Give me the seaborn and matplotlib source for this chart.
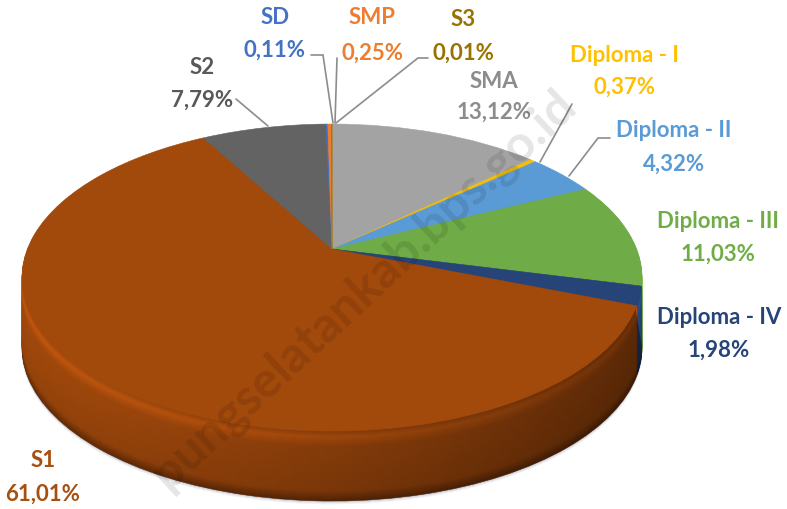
import numpy as np
import matplotlib
matplotlib.use('Agg')
import matplotlib.pyplot as plt
import seaborn as sns
from matplotlib.patches import Polygon
from matplotlib.transforms import Transform

# Values, clockwise from 12 o'clock
categories = ['SMA', 'Diploma - I', 'Diploma - II', 'Diploma - III', 'Diploma - IV',
              'S1', 'S2', 'SD', 'SMP', 'S3']
values = [13.12, 0.37, 4.32, 11.03, 1.98, 61.01, 7.79, 0.11, 0.25, 0.01]
value_labels = ['13,12%', '0,37%', '4,32%', '11,03%', '1,98%',
                '61,01%', '7,79%', '0,11%', '0,25%', '0,01%']
slice_colors = ['#A3A3A3', '#F5BE0A', '#5B9BD5', '#6FAB46', '#264478',
                '#A2490C', '#636363', '#4472C4', '#ED7D31', '#997300']
text_colors = ['#8C8C8C', '#FFC000', '#5B9BD5', '#70AD47', '#264478',
               '#A5500F', '#595959', '#4472C4', '#ED7D31', '#997300']

# Label centres in pixels: name line, value line
label_pos = {
    'SMA': (494, 82, 112), 'Diploma - I': (624, 55, 87), 'Diploma - II': (674, 131, 164),
    'Diploma - III': (718, 222, 254), 'Diploma - IV': (719, 318, 350), 'S1': (43, 461, 494),
    'S2': (202, 67, 100), 'SD': (275, 18, 50), 'SMP': (372, 18, 53), 'S3': (463, 20, 53),
}
leaders = [
    [(311, 56), (323, 56), (333, 124)],
    [(337, 59), (335, 124)],
    [(428, 59), (418, 59), (336, 124)],
    [(236, 100), (268, 127)],
    [(572, 105), (540, 163)],
    [(610, 139), (598, 139), (569, 177)],
]

# Perspective of the disc, in pixels
CX, CY, RX, RY, TILT = 332, 250, 304.6, 148.2, 0.186
DEPTH = 70


class DiscTilt(Transform):
    """Maps the unit pie circle onto the tilted disc, apex kept off-centre."""
    input_dims = 2
    output_dims = 2
    is_separable = False
    has_inverse = False

    def __init__(self, drop=0):
        super().__init__()
        self.drop = drop

    def transform_non_affine(self, values):
        values = np.asarray(values, dtype=float)
        w = 1 + TILT * values[:, 1]
        return np.column_stack((CX + RX * values[:, 0] / w,
                                CY - RY * values[:, 1] / w + self.drop))


def draw_disc(ax, colors, drop, zorder):
    wedges, _ = ax.pie(values, colors=colors, startangle=90, counterclock=False,
                       wedgeprops={'linewidth': 0.4})
    for w in wedges:
        w.set_edgecolor(w.get_facecolor())
        w.set_transform(DiscTilt(drop) + ax.transData)
        w.set_zorder(zorder)


sns.set_theme(style='white')
plt.rcParams['font.family'] = ['Lato', 'DejaVu Sans']

fig, ax = plt.subplots(figsize=(7.87, 5.10), dpi=100)
fig.subplots_adjust(0, 0, 1, 1)

# Faint shadow under the disc
for d, tone in [(DEPTH + 3, '#F1F3F7'), (DEPTH + 2, '#E4E7EE'), (DEPTH + 1, '#CDD0D8')]:
    draw_disc(ax, [tone] * len(values), d, 1)

# Side of the disc: stacked pies, shaded from rim highlight down to the base
base = np.array(sns.color_palette(slice_colors))
for d in range(DEPTH, 0, -1):
    shade = np.interp(d, [0, 6, 16, 60, DEPTH], [1.0, 1.2, 1.0, 0.92, 0.6])
    draw_disc(ax, [tuple(c) for c in np.clip(base * shade, 0, 1)], d, 2)

# Side gets darker towards the right, clipped to the disc's silhouette
tip = np.arcsin(TILT)
arc = np.linspace(-tip, -np.pi + tip, 150)
front = np.column_stack((np.cos(arc), np.sin(arc)))
back = front[::-1] * [1, -1]
outline = np.vstack((DiscTilt(DEPTH).transform_non_affine(front),
                     DiscTilt(0).transform_non_affine(back)))
grad = np.zeros((1, 256, 4))
grad[0, :, 3] = np.linspace(0, 0.5, 256) ** 1.2
im = ax.imshow(grad, extent=(20, 645, 520, 200), aspect='auto', zorder=3)
im.set_clip_path(Polygon(outline, transform=ax.transData))

# Top surface
draw_disc(ax, slice_colors, 0, 4)

ax.set_aspect('auto')
ax.set_xlim(0, 787)
ax.set_ylim(510, 0)
ax.axis('off')

for pts in leaders:
    xs, ys = zip(*pts)
    ax.plot(xs, ys, color='#8C8C8C', lw=1.2, zorder=5, solid_joinstyle='miter')

for name, val, col in zip(categories, value_labels, text_colors):
    x, y1, y2 = label_pos[name]
    ax.text(x, y1, name, color=col, fontsize=16, fontweight='bold', ha='center', va='center', zorder=6)
    ax.text(x, y2, val, color=col, fontsize=16, fontweight='bold', ha='center', va='center', zorder=6)

# Site watermark
ax.text(568, 98, 'pungselatankab.bps.go.id', color='black', alpha=0.1, fontsize=36,
        fontweight='bold', rotation=43, rotation_mode='anchor', ha='right', va='center', zorder=7)

fig.savefig('out.png', dpi=100)
